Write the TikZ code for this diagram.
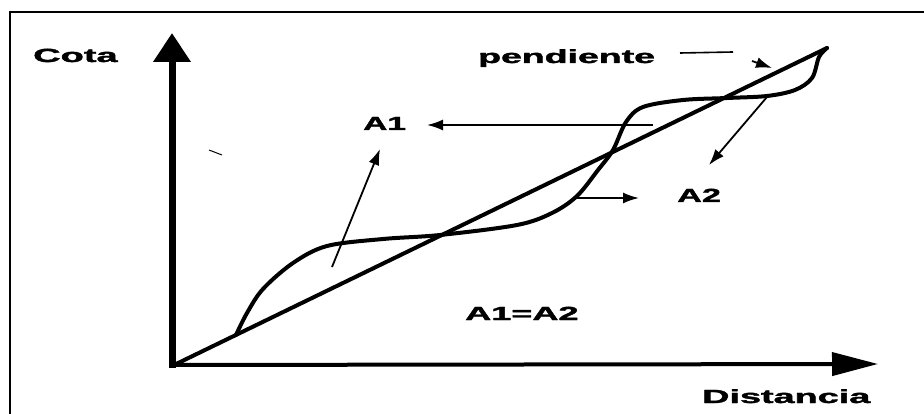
\documentclass[tikz,border=0pt]{standalone}
\usepackage{fontspec}
\usepackage{graphicx}
\setmainfont{Liberation Sans}[BoldFeatures={FakeBold=1.6}]
\usetikzlibrary{arrows.meta}
\newcommand{\lbl}[2][2]{\scalebox{#1}[1]{\bfseries\fontsize{19}{19}\selectfont #2}}
\begin{document}
\begin{tikzpicture}[x=1pt,y=-1pt,
  frame/.style={line width=2.5pt},
  vaxis/.style={line width=7pt,-{Triangle[length=29pt,width=36pt]}},
  haxis/.style={line width=4pt,-{Triangle[length=46pt,width=23pt]}},
  curve/.style={line width=4pt,line join=round,line cap=round},
  pointer/.style={line width=1.8pt,-{Latex[length=16pt,width=11pt]}},
  thinline/.style={line width=1.6pt},
  lab/.style={inner sep=0pt,anchor=base west}]
\useasboundingbox (0,0) rectangle (924,414);
\draw[frame] (10,414) -- (10,12) -- (924,12);
% named points
\coordinate (O) at (172,366);
\coordinate (Ytop) at (172,33);
\coordinate (Xend) at (878,364);
\coordinate (P) at (827,48);
\coordinate (S) at (236,335);
% axes
\draw[vaxis] (172,368) -- (Ytop);
\draw[haxis] (170,365) -- (Xend);
% slope line
\draw[curve] (O) -- (P);
% profile curve
\draw[curve] plot[smooth,tension=0.55] coordinates {
 (S) (247,313) (263,289) (293,263) (327,246) (383,239) (440,235)
 (517,225) (552,213) (577,196) (598,170) (613,150) (626,122) (643,107)
 (683,100) (727,98) (767,96) (795,90) (812,78) (819,57) (P)};
% labels
\node[lab] (cota) at (33,62) {\lbl[2.0]{Cota}};
\node[lab] (pend) at (478,63) {\lbl[1.97]{pendiente}};
\node[lab] (a1) at (363,130) {\lbl[1.76]{A1}};
\node[lab] (a2) at (677,202) {\lbl[1.8]{A2}};
\node[lab] (eq) at (465,320) {\lbl[1.9]{A1=A2}};
\node[lab] (dist) at (702,403) {\lbl[1.99]{Distancia}};
% pointer ends
\coordinate (a1h0) at (653,125);
\coordinate (a1h1) at (427,125);
\coordinate (a1d0) at (332,267);
\coordinate (a1d1) at (380,149);
\coordinate (a2h0) at (577,198);
\coordinate (a2h1) at (639,198);
\coordinate (a2d0) at (767,97);
\coordinate (a2d1) at (709,165);
\coordinate (pe0) at (680,53);
\coordinate (pe1) at (733,52);
\coordinate (pe2) at (752,61);
\coordinate (pe3) at (772,68);
\draw[pointer] (a1h0) -- (a1h1);
\draw[pointer] (a1d0) -- (a1d1);
\draw[pointer] (a2h0) -- (a2h1);
\draw[pointer] (a2d0) -- (a2d1);
\draw[thinline] (pe0) -- (pe1);
\draw[pointer] (pe2) -- (pe3);
% scan mark
\coordinate (m0) at (209,150);
\coordinate (m1) at (222,155);
\draw[line width=1pt] (m0) -- (m1);
\end{tikzpicture}
\end{document}
